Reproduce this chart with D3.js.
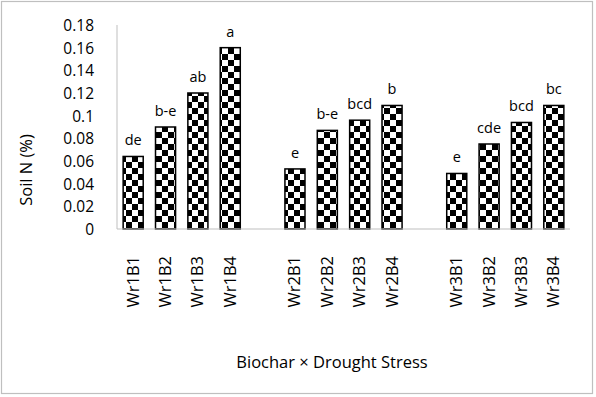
<!DOCTYPE html>
<html>
<head>
<meta charset="utf-8">
<script src="https://cdn.jsdelivr.net/npm/d3@7"></script>
<style>
  body { margin: 0; background: #fff; }
  text { font-family: "Open Sans", "Noto Sans", sans-serif; fill: #000; }
</style>
</head>
<body>
<svg width="596" height="397"></svg>
<script>
// categories incl. blank slots between groups (Excel-style gaps)
var categories = ["Wr1B1", "Wr1B2", "Wr1B3", "Wr1B4", "", "Wr2B1", "Wr2B2", "Wr2B3", "Wr2B4", " ", "Wr3B1", "Wr3B2", "Wr3B3", "Wr3B4"];
var soilN = [0.064, 0.09, 0.12, 0.16, null, 0.053, 0.087, 0.096, 0.109, null, 0.049, 0.075, 0.094, 0.109];
var letters = ["de", "b-e", "ab", "a", "", "e", "b-e", "bcd", "b", "", "e", "cde", "bcd", "bc"];
var yTicks = [0, 0.02, 0.04, 0.06, 0.08, 0.1, 0.12, 0.14, 0.16, 0.18];

var margin = { top: 25, right: 26, bottom: 168, left: 117 },
  svg_dx = 596,
  svg_dy = 397;

var svg = d3.select("svg");

// outer frame
svg.append("rect")
  .attr("x", 1.5).attr("y", 1.5)
  .attr("width", svg_dx - 5).attr("height", svg_dy - 5)
  .attr("fill", "#fff").attr("stroke", "#bfbfbf").attr("stroke-width", 1.2);

// checkerboard fill
var defs = svg.append("defs");
var pat = defs.append("pattern")
  .attr("id", "checker")
  .attr("patternUnits", "userSpaceOnUse")
  .attr("width", 12).attr("height", 12);
pat.append("rect").attr("width", 12).attr("height", 12).attr("fill", "#fff");
pat.append("rect").attr("width", 6).attr("height", 6).attr("fill", "#000");
pat.append("rect").attr("x", 6).attr("y", 6).attr("width", 6).attr("height", 6).attr("fill", "#000");

var x = d3.scaleBand()
  .domain(categories)
  .range([margin.left, svg_dx - margin.right])
  .paddingInner(0.38).paddingOuter(0.19);

var y = d3.scaleLinear()
  .domain([0, 0.18])
  .range([svg_dy - margin.bottom, margin.top]);

// y axis
var axis_y = d3.axisLeft(y).tickValues(yTicks).tickSize(0).tickPadding(0)
  .tickFormat(function (d) { return d3.format("~g")(d); });
var gy = svg.append("g")
  .attr("transform", "translate(" + (margin.left - 23) + ",0)")
  .call(axis_y);
gy.select(".domain").remove();
gy.selectAll("text").attr("font-size", 15.5).attr("font-family", "Open Sans, sans-serif").attr("dy", "0.36em");

svg.append("line")
  .attr("x1", margin.left).attr("x2", margin.left)
  .attr("y1", y(0.18)).attr("y2", y(0))
  .attr("stroke", "#bfbfbf").attr("stroke-width", 1);

// bars
var data = categories.map(function (c, i) { return { cat: c, v: soilN[i], lab: letters[i] }; })
  .filter(function (d) { return d.v !== null; });

svg.append("g")
  .selectAll("rect")
  .data(data)
  .enter()
  .append("rect")
  .attr("x", function (d) { return x(d.cat); })
  .attr("y", function (d) { return y(d.v); })
  .attr("width", x.bandwidth())
  .attr("height", function (d) { return y(0) - y(d.v); })
  .attr("fill", "url(#checker)")
  .attr("stroke", "#000")
  .attr("stroke-width", 1.5);

// significance letters
svg.append("g")
  .selectAll("text")
  .data(data)
  .enter()
  .append("text")
  .attr("x", function (d) { return x(d.cat) + x.bandwidth() / 2; })
  .attr("y", function (d) { return y(d.v) - 11; })
  .attr("text-anchor", "middle")
  .attr("font-size", 14.5)
  .text(function (d) { return d.lab; });

// x axis
svg.append("line")
  .attr("x1", margin.left).attr("x2", svg_dx - margin.right)
  .attr("y1", y(0)).attr("y2", y(0))
  .attr("stroke", "#bfbfbf").attr("stroke-width", 1.2);

svg.append("g")
  .selectAll("text")
  .data(data)
  .enter()
  .append("text")
  .attr("transform", function (d) {
    return "translate(" + (x(d.cat) + x.bandwidth() / 2 + 5.5) + "," + 256 + ") rotate(-90)";
  })
  .attr("text-anchor", "end")
  .attr("font-size", 16.5)
  .text(function (d) { return d.cat; });

// axis titles
svg.append("text")
  .attr("x", 332).attr("y", 368)
  .attr("text-anchor", "middle")
  .attr("font-size", 16.5)
  .text("Biochar × Drought Stress");

svg.append("text")
  .attr("transform", "translate(32,170) rotate(-90)")
  .attr("text-anchor", "middle")
  .attr("font-size", 16.5)
  .text("Soil N (%)");
</script>
</body>
</html>
